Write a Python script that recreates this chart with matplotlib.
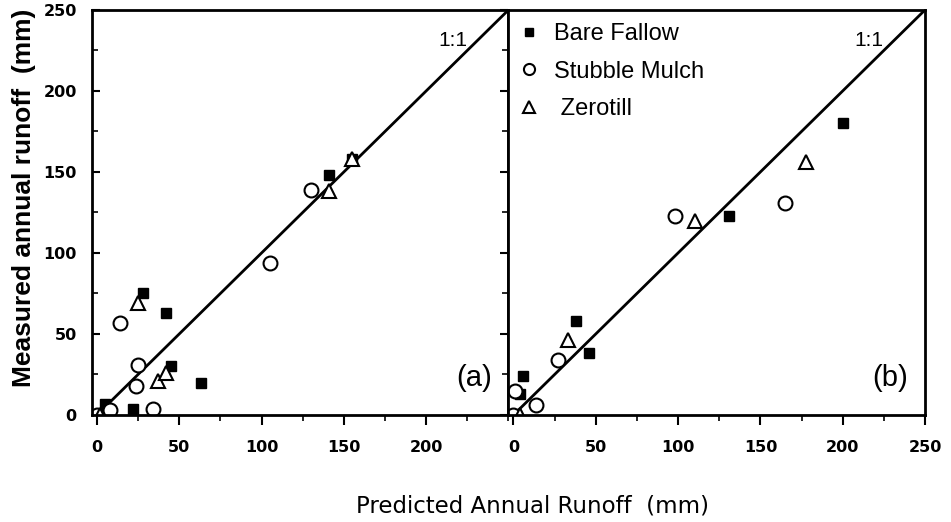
import matplotlib
matplotlib.use("Agg")
import matplotlib.pyplot as plt
from matplotlib.ticker import MultipleLocator

plt.rcParams['font.family'] = ['Liberation Sans', 'DejaVu Sans']

# panel (a) - predicted vs measured annual runoff (mm)
a_fallow_x = [5, 22, 28, 42, 45, 63, 141, 155]
a_fallow_y = [7, 4, 75, 63, 30, 20, 148, 158]
a_mulch_x = [0, 8, 14, 25, 24, 34, 105, 130]
a_mulch_y = [0, 3, 57, 31, 18, 4, 94, 139]
a_zero_x = [2, 25, 37, 42, 141, 155]
a_zero_y = [0, 69, 21, 26, 138, 158]

# panel (b)
b_fallow_x = [4, 6, 38, 46, 131, 200]
b_fallow_y = [13, 24, 58, 38, 123, 180]
b_mulch_x = [0, 1, 14, 27, 98, 165]
b_mulch_y = [0, 15, 6, 34, 123, 131]
b_zero_x = [4, 33, 110, 178]
b_zero_y = [0, 46, 120, 156]

one_to_one = [0, 250]
labels = ['Bare Fallow', 'Stubble Mulch', ' Zerotill']
ticks_a = [0, 50, 100, 150, 200]
ticks_b = [0, 50, 100, 150, 200, 250]

tick_font = {'family': 'DejaVu Sans', 'weight': 'bold', 'size': 11.5}

fig = plt.figure(figsize=(9.51, 5.22), dpi=100)
ax1 = fig.add_axes([0.0967, 0.205, 0.438, 0.776])
ax2 = fig.add_axes([0.5347, 0.205, 0.438, 0.776])


def draw_panel(ax, fx, fy, mx, my, zx, zy, tag, xt):
    ax.plot(one_to_one, one_to_one, color='black', lw=2)
    ax.plot(fx, fy, ls='none', marker='s', ms=6.5, color='black', label=labels[0])
    ax.plot(mx, my, ls='none', marker='o', ms=10, mfc='white', mec='black', mew=1.5,
            label=labels[1])
    ax.plot(zx, zy, ls='none', marker='^', ms=10, mfc='white', mec='black', mew=1.5,
            label=labels[2])
    ax.set_xlim(-3, 250)
    ax.set_ylim(0, 250)
    ax.set_xticks(xt)
    ax.set_xticklabels([str(t) for t in xt], fontdict=tick_font)
    ax.xaxis.set_minor_locator(MultipleLocator(25))
    ax.tick_params(axis='x', which='major', direction='out', length=7, width=1.5, pad=11)
    ax.tick_params(axis='x', which='minor', direction='out', length=4, width=1.2)
    for s in ax.spines.values():
        s.set_linewidth(2)
    ax.text(216, 231, '1:1', fontsize=15, ha='center', va='center')
    ax.text(229, 23, tag, fontsize=21, ha='center', va='center')


draw_panel(ax1, a_fallow_x, a_fallow_y, a_mulch_x, a_mulch_y, a_zero_x, a_zero_y,
           '(a)', ticks_a)
draw_panel(ax2, b_fallow_x, b_fallow_y, b_mulch_x, b_mulch_y, b_zero_x, b_zero_y,
           '(b)', ticks_b)

ax1.set_yticks(ticks_b)
ax1.set_yticklabels([str(t) for t in ticks_b], fontdict=tick_font)
ax1.yaxis.set_minor_locator(MultipleLocator(25))
ax1.tick_params(axis='y', which='both', direction='in', left=True, right=True, pad=11)
ax1.tick_params(axis='y', which='major', length=6, width=1.5)
ax1.tick_params(axis='y', which='minor', length=4, width=1.2)
ax1.set_ylabel('Measured annual runoff  (mm)', fontsize=19, fontweight='bold')
ax1.yaxis.set_label_coords(-0.135, 0.535)

ax2.set_yticks([])
ax2.tick_params(axis='y', which='both', left=False, right=False, labelleft=False)

ax2.legend(loc='upper left', bbox_to_anchor=(-0.03, 1.02), frameon=False,
           fontsize=17, labelspacing=0.66, handletextpad=0.55, handlelength=1.0,
           markerscale=0.8)

fig.text(0.56, 0.03, 'Predicted Annual Runoff  (mm)', fontsize=16.5,
         family='DejaVu Sans', ha='center', va='center')

fig.savefig('out.png', dpi=100)
